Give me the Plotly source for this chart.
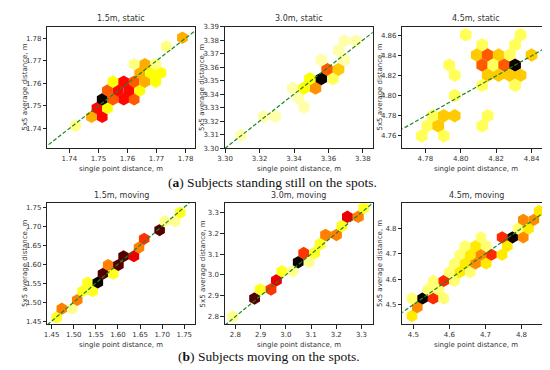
import plotly.graph_objects as go

# ---------------- data (hexbin cell centres and counts) ----------------
titles = ["1.5m, static", "3.0m, static", "4.5m, static",
          "1.5m, moving", "3.0m, moving", "4.5m, moving"]

s1_x = [1.7421, 1.7476, 1.7513, 1.7495, 1.7531, 1.7513, 1.7550, 1.7587, 1.7623, 1.7531,
        1.7568, 1.7605, 1.7642, 1.7550, 1.7587, 1.7623, 1.7660, 1.7697, 1.7642, 1.7679,
        1.7715, 1.7623, 1.7660, 1.7697, 1.7734, 1.7789]
s1_y = [1.7412, 1.7451, 1.7451, 1.7490, 1.7490, 1.7529, 1.7529, 1.7529, 1.7529, 1.7568,
        1.7568, 1.7568, 1.7568, 1.7607, 1.7607, 1.7607, 1.7607, 1.7607, 1.7646, 1.7646,
        1.7646, 1.7685, 1.7685, 1.7685, 1.7763, 1.7802]
s1_c = [1, 3, 5, 5, 2, 8, 4, 5, 4, 4,
        5, 5, 2, 2, 5, 4, 3, 2, 3, 2,
        2, 1, 3, 1, 1, 3]

s2_x = [3.3091, 3.3224, 3.3291, 3.3458, 3.3425, 3.3392, 3.3458, 3.3525, 3.3492, 3.3559,
        3.3626, 3.3592, 3.3659, 3.3559, 3.3692, 3.3659, 3.3692, 3.3759]
s2_y = [3.3094, 3.3234, 3.3234, 3.3304, 3.3374, 3.3444, 3.3444, 3.3444, 3.3514, 3.3514,
        3.3514, 3.3584, 3.3584, 3.3654, 3.3654, 3.3724, 3.3794, 3.3794]
s2_c = [1, 1, 1, 1, 1, 1, 3, 5, 3, 12,
        2, 6, 4, 1, 1, 1, 1, 1]

s3_x = [4.8028, 4.8338, 4.8121, 4.8307, 4.8090, 4.8152, 4.8214, 4.8276, 4.8400, 4.7935,
        4.8121, 4.8183, 4.8245, 4.8307, 4.7966, 4.8152, 4.8214, 4.8276, 4.8338, 4.8121,
        4.8307, 4.7966, 4.7842, 4.7904, 4.7966, 4.8152, 4.7811, 4.7873, 4.8121, 4.7780,
        4.7904]
s3_y = [4.8610, 4.8610, 4.8509, 4.8509, 4.8408, 4.8408, 4.8408, 4.8408, 4.8408, 4.8307,
        4.8307, 4.8307, 4.8307, 4.8307, 4.8206, 4.8206, 4.8206, 4.8206, 4.8206, 4.8105,
        4.8105, 4.8004, 4.7802, 4.7802, 4.7802, 4.7802, 4.7701, 4.7701, 4.7701, 4.7600,
        4.7600]
s3_c = [1, 1, 1, 1, 2, 3, 2, 1, 2, 1,
        3, 1, 3, 6, 1, 2, 2, 2, 2, 1,
        1, 1, 1, 2, 2, 1, 1, 2, 1, 1,
        1]

s4_x = [1.4613, 1.4730, 1.4963, 1.5079, 1.5196, 1.5428, 1.5312, 1.5545, 1.5661, 1.5894,
        1.5778, 1.6010, 1.6127, 1.6360, 1.6476, 1.6593, 1.6942, 1.7058, 1.7291, 1.7408]
s4_y = [1.4597, 1.4827, 1.4827, 1.5057, 1.5287, 1.5287, 1.5517, 1.5517, 1.5747, 1.5747,
        1.5978, 1.5978, 1.6208, 1.6208, 1.6438, 1.6668, 1.6898, 1.7128, 1.7128, 1.7358]
s4_c = [2, 4, 1, 4, 2, 2, 2, 9, 8, 2,
        4, 8, 8, 6, 4, 5, 8, 1, 1, 2]

s5_x = [2.7895, 2.8761, 2.8978, 2.9411, 2.9627, 2.9844, 3.0277, 3.0493, 3.0927, 3.0710,
        3.1143, 3.1360, 3.1576, 3.2009, 3.2226, 3.2442, 3.2875, 3.3092]
s5_y = [2.7997, 2.8868, 2.9304, 2.9304, 2.9739, 3.0175, 3.0175, 3.0610, 3.0610, 3.1046,
        3.1046, 3.1481, 3.1917, 3.1917, 3.2352, 3.2788, 3.2788, 3.3223]
s5_c = [1, 8, 2, 5, 6, 2, 1, 9, 1, 5,
        2, 2, 4, 4, 2, 6, 4, 2]

s6_x = [4.4962, 4.5109, 4.4962, 4.5256, 4.5550, 4.5844, 4.5403, 4.5697, 4.5550, 4.5844,
        4.6138, 4.5991, 4.6285, 4.6579, 4.6138, 4.6432, 4.6726, 4.7020, 4.6285, 4.6579,
        4.6873, 4.7167, 4.7461, 4.6432, 4.6726, 4.7020, 4.7608, 4.6873, 4.7461, 4.7755,
        4.8050, 4.7903, 4.8197, 4.8050, 4.8344, 4.8491]
s6_y = [4.4556, 4.4899, 4.5243, 4.5243, 4.5243, 4.5243, 4.5587, 4.5587, 4.5930, 4.5930,
        4.5930, 4.6274, 4.6274, 4.6274, 4.6617, 4.6617, 4.6617, 4.6617, 4.6961, 4.6961,
        4.6961, 4.6961, 4.6961, 4.7304, 4.7304, 4.7304, 4.7304, 4.7648, 4.7648, 4.7648,
        4.7648, 4.7991, 4.7991, 4.8335, 4.8335, 4.8679]
s6_c = [2, 3, 1, 7, 4, 1, 1, 1, 1, 4,
        1, 1, 2, 1, 1, 2, 3, 2, 1, 2,
        3, 4, 2, 1, 2, 1, 2, 1, 4, 7,
        3, 1, 2, 3, 3, 2]

x_ticks = [[1.74, 1.75, 1.76, 1.77, 1.78], [3.30, 3.32, 3.34, 3.36, 3.38], [4.78, 4.80, 4.82, 4.84],
           [1.45, 1.50, 1.55, 1.60, 1.65, 1.70, 1.75], [2.8, 2.9, 3.0, 3.1, 3.2, 3.3], [4.5, 4.6, 4.7, 4.8]]
y_ticks = [[1.74, 1.75, 1.76, 1.77, 1.78], [3.30, 3.31, 3.32, 3.33, 3.34, 3.35, 3.36, 3.37, 3.38, 3.39],
           [4.76, 4.78, 4.80, 4.82, 4.84, 4.86],
           [1.45, 1.50, 1.55, 1.60, 1.65, 1.70, 1.75], [2.8, 2.9, 3.0, 3.1, 3.2, 3.3], [4.5, 4.6, 4.7, 4.8]]
tick_fmt = [".2f", ".2f", ".2f", ".2f", ".1f", ".1f"]

x_label = "single point distance, m"
y_label = "5x5 average distance, m"
captions = ["(<b>a</b>) Subjects standing still on the spots.",
            "(<b>b</b>) Subjects moving on the spots."]

# ---------------- layout / style ----------------
xs = [s1_x, s2_x, s3_x, s4_x, s5_x, s6_x]
ys = [s1_y, s2_y, s3_y, s4_y, s5_y, s6_y]
cs = [s1_c, s2_c, s3_c, s4_c, s5_c, s6_c]

x_ranges = [[1.7324, 1.7833], [3.2998, 3.3857], [4.7670, 4.8503],
            [1.4402, 1.7746], [2.7579, 3.3445], [4.4693, 4.8786]]
y_ranges = [[1.7312, 1.7851], [3.2999, 3.3900], [4.7477, 4.8691],
            [1.4414, 1.7603], [2.7623, 3.3439], [4.4222, 4.8985]]
hex_size = [12.4, 13.2, 13.4, 12.2, 12.5, 12.2]

col_dom = [[0.0595, 0.3318], [0.3864, 0.6587], [0.7133, 0.9849]]
row_dom = [[0.6235, 0.9595], [0.1370, 0.4716]]

HOT_R = [[0.0, "rgb(255,255,255)"], [0.253968, "rgb(255,255,0)"],
         [0.634921, "rgb(255,0,0)"], [1.0, "rgb(11,0,0)"]]

TXT = "#333333"
fig = go.Figure()
annotations = []
for k in range(6):
    r, c = divmod(k, 3)
    xa = "x" if k == 0 else f"x{k+1}"
    ya = "y" if k == 0 else f"y{k+1}"
    fig.add_trace(go.Scatter(
        x=xs[k], y=ys[k], mode="markers", xaxis=xa, yaxis=ya, showlegend=False,
        marker=dict(symbol="hexagon", size=hex_size[k], color=cs[k], colorscale=HOT_R,
                    cmin=0, cmax=max(cs[k]), showscale=False, line=dict(width=0)),
        hoverinfo="x+y"))
    lo = min(x_ranges[k][0], y_ranges[k][0])
    hi = max(x_ranges[k][1], y_ranges[k][1])
    fig.add_trace(go.Scatter(
        x=[lo, hi], y=[lo, hi], mode="lines", xaxis=xa, yaxis=ya, showlegend=False,
        line=dict(color="rgb(30,135,30)", width=1.2, dash="4px,2px"), hoverinfo="skip"))

    ax_common = dict(showline=True, mirror=True, linecolor="#222222", linewidth=0.8,
                     ticks="outside", ticklen=3.5, tickwidth=0.8, tickcolor="#222222",
                     showgrid=False, zeroline=False,
                     tickfont=dict(family="DejaVu Sans", size=7, color=TXT),
                     tickformat=tick_fmt[k])
    fig.layout[("xaxis" if k == 0 else f"xaxis{k+1}")] = dict(
        domain=col_dom[c], range=x_ranges[k], anchor=ya, tickvals=x_ticks[k], **ax_common)
    fig.layout[("yaxis" if k == 0 else f"yaxis{k+1}")] = dict(
        domain=row_dom[r], range=y_ranges[k], anchor=xa, tickvals=y_ticks[k], **ax_common)

    cx = (col_dom[c][0] + col_dom[c][1]) / 2
    top = row_dom[r][1]
    annotations.append(dict(text=titles[k], x=cx, y=top + 0.006, xref="paper", yref="paper",
                            xanchor="center", yanchor="bottom", showarrow=False, borderpad=0,
                            font=dict(family="DejaVu Sans", size=8, color=TXT)))
    annotations.append(dict(text=x_label, x=cx, y=row_dom[r][0] - 0.0395, xref="paper", yref="paper",
                            xanchor="center", yanchor="top", showarrow=False,
                            font=dict(family="DejaVu Sans", size=7, color=TXT)))
    annotations.append(dict(text=y_label, x=col_dom[c][0] - 0.041, y=(row_dom[r][0] + row_dom[r][1]) / 2,
                            xref="paper", yref="paper", xanchor="center", yanchor="middle",
                            textangle=-90, showarrow=False,
                            font=dict(family="DejaVu Sans", size=7, color=TXT)))

annotations.append(dict(text=captions[0], x=261 / 550, y=1 - 174 / 370, xref="paper", yref="paper",
                        xanchor="center", yanchor="middle", showarrow=False, borderpad=0,
                        font=dict(family="Liberation Serif", size=13.5, color="#111111")))
annotations.append(dict(text=captions[1], x=257 / 550, y=1 - 352 / 370, xref="paper", yref="paper",
                        xanchor="center", yanchor="middle", showarrow=False, borderpad=0,
                        font=dict(family="Liberation Serif", size=13.5, color="#111111")))

fig.update_layout(width=550, height=370, margin=dict(l=0, r=0, t=0, b=0),
                  paper_bgcolor="white", plot_bgcolor="white", annotations=annotations)

fig.write_html("out.html")
